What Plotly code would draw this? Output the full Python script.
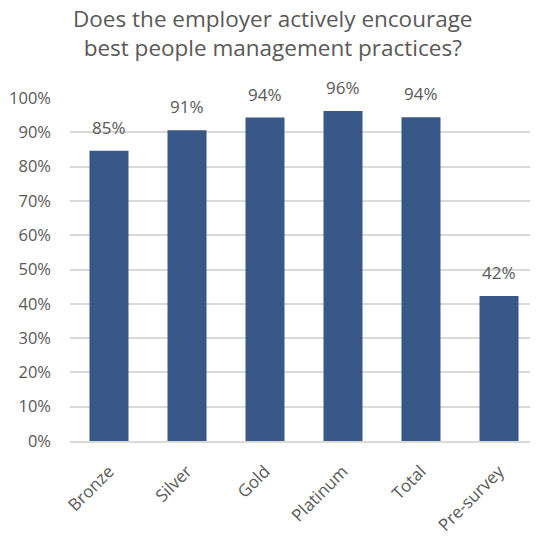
import plotly.graph_objects as go

categories = ["Bronze", "Silver", "Gold", "Platinum", "Total", "Pre-survey"]
values = [84.6, 90.6, 94.3, 96.2, 94.4, 42.3]
labels = ["85%", "91%", "94%", "96%", "94%", "42%"]
tick_vals = list(range(0, 101, 10))
tick_text = [f"{v}%" for v in tick_vals]
title_lines = ["Does the employer actively encourage", "best people management practices?"]

FONT = "Open Sans"
GREY = "#595959"

fig = go.Figure()
fig.add_trace(go.Bar(
    x=categories, y=values,
    marker=dict(color="#385887", line=dict(width=0)),
    width=0.5,
    cliponaxis=False,
    hoverinfo="skip",
))

annotations = []
for c, v, t in zip(categories, values, labels):
    annotations.append(dict(x=c, y=v, xref="x", yref="y", text=t, showarrow=False,
                            yanchor="bottom", yshift=10,
                            font=dict(family=FONT, size=17, color=GREY)))
annotations.append(dict(x=0.434, y=1.283, xref="paper", yref="paper",
                        text="<br>".join(title_lines), showarrow=False,
                        xanchor="center", yanchor="top", align="center",
                        font=dict(family=FONT, size=22.5, color=GREY)))

# page body has an 8px margin, so the figure is sized to compensate
fig.update_layout(
    width=530, height=528,
    margin=dict(l=62, r=0, t=90, b=95, autoexpand=False),
    paper_bgcolor="white", plot_bgcolor="white",
    showlegend=False,
    annotations=annotations,
)
fig.update_yaxes(range=[0, 100], tickvals=tick_vals, ticktext=tick_text,
                 showgrid=True, gridcolor="#d9d9d9", gridwidth=1.5,
                 zeroline=False, showline=False, automargin=False,
                 tickfont=dict(family=FONT, size=16.5, color=GREY),
                 ticklabelstandoff=18)
fig.update_xaxes(tickangle=-45, showline=True, linecolor="#d9d9d9", linewidth=1.5,
                 automargin=False,
                 tickfont=dict(family=FONT, size=17, color=GREY),
                 ticklabelstandoff=12)

fig.write_html("out.html")
